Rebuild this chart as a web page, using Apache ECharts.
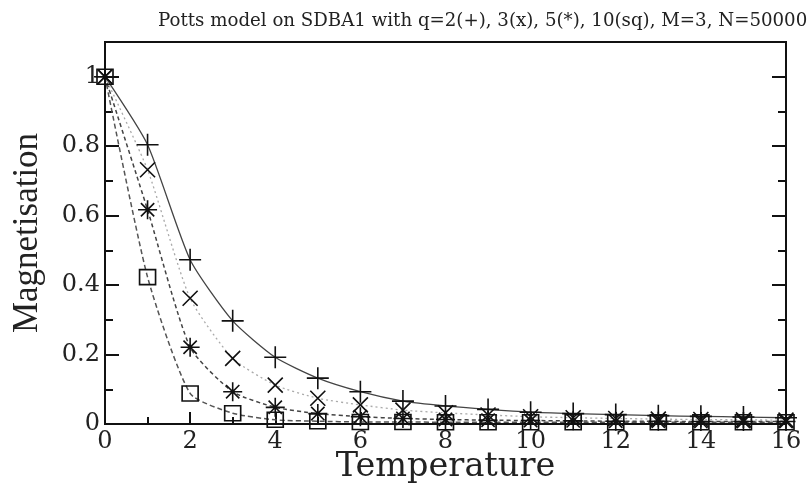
<!DOCTYPE html>
<html>
<head>
<meta charset="utf-8">
<script src="https://cdn.jsdelivr.net/npm/echarts@6/dist/echarts.min.js"></script>
<style>html,body{margin:0;padding:0;background:#fff}#c{width:811px;height:489px}</style>
</head>
<body>
<div id="c"></div>
<script>
const temperature = [0,1,2,3,4,5,6,7,8,9,10,11,12,13,14,15,16];
const q2  = [1, 0.804, 0.473, 0.297, 0.192, 0.132, 0.093, 0.066, 0.052, 0.042, 0.034, 0.030, 0.027, 0.024, 0.022, 0.020, 0.018];
const q3  = [1, 0.732, 0.362, 0.189, 0.112, 0.074, 0.055, 0.040, 0.032, 0.026, 0.021, 0.018, 0.016, 0.014, 0.013, 0.012, 0.011];
const q5  = [1, 0.617, 0.221, 0.093, 0.048, 0.030, 0.021, 0.016, 0.013, 0.011, 0.010, 0.009, 0.008, 0.008, 0.007, 0.007, 0.007];
const q10 = [1, 0.423, 0.088, 0.031, 0.012, 0.008, 0.006, 0.006, 0.005, 0.005, 0.005, 0.005, 0.005, 0.005, 0.005, 0.005, 0.005];
const titleText = 'Potts model on SDBA1 with q=2(+), 3(x), 5(*), 10(sq), M=3, N=50000';
const xName = 'Temperature';
const yName = 'Magnetisation';

const PLUS = 'path://M5 0 L5 10 M0 5 L10 5';
const CROSS = 'path://M0 0 L10 10 M0 10 L10 0';
const STAR = 'path://M5 0 L5 10 M0 5 L10 5 M1.5 1.5 L8.5 8.5 M1.5 8.5 L8.5 1.5';

function pairs(ys){ return temperature.map((t,i)=>[t, ys[i]]); }
function mk(name, ys, symbol, size, lineType, lineColor, lineWidth){
  return {
    name, type:'line', data: pairs(ys), symbol, symbolSize: size,
    smooth: 0.2, showAllSymbol: true, z: 3,
    lineStyle: {color: lineColor, width: lineWidth, type: lineType},
    itemStyle: {color: 'transparent', borderColor: '#111', borderWidth: 1.6},
    emphasis: {disabled: true}
  };
}
const serif = 'DejaVu Serif';
const chart = echarts.init(document.getElementById('c'), null, {renderer:'canvas'});
chart.setOption({
  animation: false,
  backgroundColor: '#fff',
  title: {text: titleText, left: 153, top: 7,
    textStyle: {fontFamily: serif, fontSize: 18.2, fontWeight: 'normal', color: '#222'}},
  grid: {left: 105, right: 25, top: 42, bottom: 65, containLabel: false, outerBoundsMode: 'none',
    show: true, borderColor: '#111', borderWidth: 2, backgroundColor: 'transparent'},
  xAxis: [{
    type: 'value', min: 0, max: 16, interval: 2,
    name: xName, nameLocation: 'middle', nameGap: 26, nameMoveOverlap: false,
    nameTextStyle: {fontFamily: serif, fontSize: 33.5, color: '#222'},
    axisLine: {show: true, onZero: false, lineStyle: {color: '#111', width: 2}},
    axisTick: {show: true, inside: true, length: 12, lineStyle: {color: '#111', width: 2}},
    minorTick: {show: true, splitNumber: 2, length: 7, lineStyle: {color: '#111', width: 2}},
    axisLabel: {fontFamily: serif, fontSize: 24, color: '#222', margin: 6},
    splitLine: {show: false}
  }],
  yAxis: [{
    type: 'value', min: 0, max: 1.1, interval: 0.2,
    name: yName, nameLocation: 'middle', nameGap: 60, nameRotate: 90, nameMoveOverlap: false,
    nameTextStyle: {fontFamily: 'Liberation Serif', fontSize: 35, color: '#222'},
    axisLine: {show: true, onZero: false, lineStyle: {color: '#111', width: 2}},
    axisTick: {show: true, inside: true, length: 14, lineStyle: {color: '#111', width: 2}},
    minorTick: {show: true, splitNumber: 2, length: 8, lineStyle: {color: '#111', width: 2}},
    axisLabel: {fontFamily: serif, fontSize: 24, color: '#222', margin: 5, showMaxLabel: false},
    splitLine: {show: false}
  },{
    type: 'value', min: 0, max: 1.1, interval: 0.2, position: 'right',
    axisLine: {show: true, onZero: false, lineStyle: {color: '#111', width: 2}},
    axisTick: {show: true, inside: true, length: 14, lineStyle: {color: '#111', width: 2}},
    minorTick: {show: true, splitNumber: 2, length: 8, lineStyle: {color: '#111', width: 2}},
    axisLabel: {show: false}, splitLine: {show: false}
  }],
  series: [
    mk('q=2', q2, PLUS, 22, 'solid', '#444', 1.3),
    mk('q=3', q3, CROSS, 15, [2,3], '#aaa', 1.3),
    mk('q=5', q5, STAR, 19, [4,3], '#444', 1.5),
    Object.assign(mk('q=10', q10, 'rect', 16, [5,3], '#555', 1.5), {symbolSize: [16,15]})
  ]
});
</script>
</body>
</html>
